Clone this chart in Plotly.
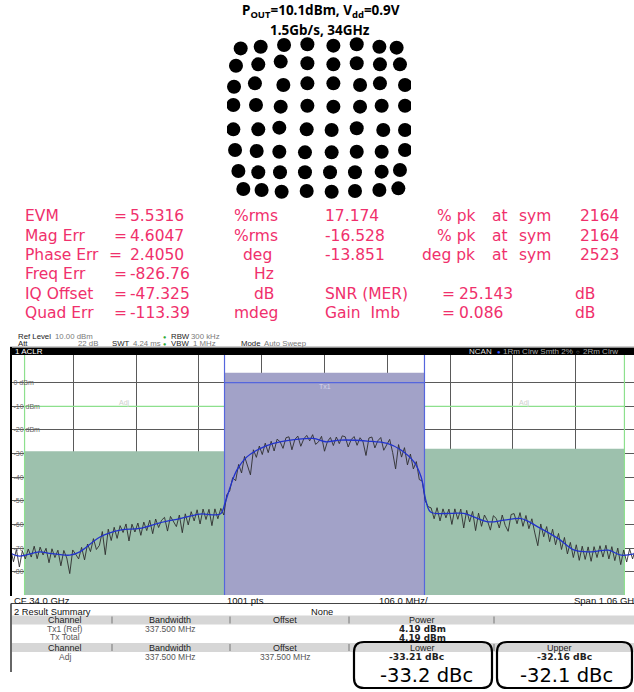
import plotly.graph_objects as go

W, H = 634, 692


def px(x):
    return x / W


def py(y):
    return 1 - y / H


# ---------------- data ----------------
title_line1 = "P<sub>OUT</sub>=10.1dBm, V<sub>dd</sub>=0.9V"
title_line2 = "1.5Gb/s, 34GHz"

# 64-QAM constellation, measured symbol cluster centres (I, Q), row by row
const_I_rows = [
    [-6.81, -5.07, -3.04, -1.01, 1.25, 3.28, 5.25, 6.75],
    [-7.22, -5.28, -3.33, -1.01, 1.25, 3.28, 5.30, 7.04],
    [-7.39, -5.57, -3.10, -1.01, 1.25, 3.57, 5.30, 7.48],
    [-7.45, -5.48, -3.33, -1.01, 1.25, 3.57, 5.45, 7.48],
    [-7.45, -5.28, -3.45, -1.07, 1.10, 3.28, 5.59, 7.48],
    [-7.30, -5.42, -3.45, -1.22, 1.10, 3.28, 5.45, 7.48],
    [-7.01, -5.28, -3.39, -1.22, 0.96, 3.13, 5.45, 7.04],
    [-6.58, -4.99, -3.25, -1.07, 1.10, 3.13, 5.25, 6.90],
]
const_Q_rows = [
    [6.63, 6.79, 6.95, 7.02, 6.89, 7.02, 6.79, 6.70],
    [4.98, 5.11, 5.37, 5.21, 5.11, 5.21, 5.11, 5.11],
    [2.98, 3.30, 3.14, 3.30, 3.30, 3.14, 3.30, 3.14],
    [1.24, 1.24, 1.08, 1.17, 1.08, 1.08, 1.17, 1.17],
    [-1.08, -1.08, -0.92, -1.08, -1.14, -0.98, -1.14, -1.14],
    [-3.05, -3.14, -3.21, -3.27, -3.27, -3.21, -3.21, -3.05],
    [-5.05, -5.17, -5.17, -5.17, -5.17, -5.17, -5.11, -4.95],
    [-6.76, -6.86, -7.02, -6.95, -7.02, -6.95, -6.86, -6.70],
]

# EVM result table
evm_labels = ["EVM", "Mag Err", "Phase Err", "Freq Err", "IQ Offset", "Quad Err"]
evm_values = ["5.5316", "4.6047", "2.4050", "-826.76", "-47.325", "-113.39"]
evm_units = ["%rms", "%rms", "deg", "Hz", "dB", "mdeg"]
pk_values = ["17.174", "-16.528", "-13.851"]
pk_units = ["% pk", "% pk", "deg pk"]
pk_symbols = ["2164", "2164", "2523"]
extra_labels = ["SNR (MER)", "Gain  Imb"]
extra_values = ["25.143", "0.086"]
extra_units = ["dB", "dB"]

# ACLR spectrum
center_freq_ghz = 34.0
span_mhz = 1060
div_mhz = 106.0
n_points = 1001
chan_bw_mhz = 337.5
adj_offset_mhz = 337.5
tx_power_dbm = 4.19
adj_lower_dbc = -33.21
adj_upper_dbc = -32.16
limit_line_dbm = -10

y_tick_vals = [0, -10, -20, -30, -40, -50, -60, -70, -80]
y_tick_text = ["0 dBm", "-10 dBm", "-20 dBm", "-30", "-40", "-50", "-60", "-70", "-80"]

# smoothed trace (offset from CF in MHz, dBm)
smooth_f = [-530, -515, -481, -464, -430, -413, -379, -345, -312, -278, -244, -210,
            -176, -168, -159, -148, -131, -108, -86, -58, -19, 2, 27, 72, 106,
            129, 151, 163, 171, 179, 213, 235, 276, 303, 332, 360, 394, 422,
            450, 479, 501, 525]
smooth_p = [-72.2, -73.4, -71.6, -72.2, -73.0, -71.6, -65.3, -62.4, -61.7, -59.3, -57.5, -55.6,
            -55.6, -51.0, -44.0, -37.0, -31.4, -27.8, -25.7, -24.3, -23.6, -25.0, -24.3, -24.7, -25.7,
            -28.5, -33.5, -39.8, -49.7, -54.7, -55.3, -55.3, -58.9, -58.2, -57.5, -61.0, -65.9, -70.9,
            -71.6, -70.9, -73.0, -72.3]

# raw trace, 5 MHz steps starting at -530 MHz offset (dBm)
raw_f0 = -530
raw_df = 5
raw_p = [
    -70.0, -75.8, -70.6, -78.0, -71.2, -74.6, -70.4, -73.8, -69.2, -74.5,
    -69.6, -72.9, -70.1, -76.2, -70.3, -74.0, -70.9, -77.5, -71.0, -74.2,
    -80.8, -70.8, -72.6, -74.6, -69.7, -75.0, -68.3, -71.5, -66.0, -70.6,
    -68.9, -63.0, -72.8, -62.0, -66.8, -61.2, -65.9, -60.5, -63.4, -59.8,
    -67.0, -59.9, -63.2, -59.4, -64.6, -59.0, -62.6, -58.2, -63.9, -57.7,
    -61.3, -58.2, -57.0, -62.8, -56.6, -59.0, -60.9, -56.0, -63.5, -55.5,
    -60.2, -54.6, -58.5, -53.8, -59.8, -53.5, -57.9, -53.6, -60.5, -53.4,
    -57.6, -53.2, -56.0, -47.5, -45.8, -40.2, -41.5, -34.6, -38.2, -31.2,
    -34.9, -39.0, -28.4, -31.6, -26.8, -30.4, -25.6, -29.6, -24.8, -28.9,
    -23.9, -25.0, -27.8, -23.3, -22.9, -28.4, -24.0, -22.6, -26.9, -23.8,
    -22.3, -24.6, -22.0, -26.1, -25.0, -22.7, -29.0, -24.9, -23.2, -26.6,
    -23.0, -25.8, -22.5, -22.9, -27.2, -24.1, -22.8, -26.5, -23.3, -25.0,
    -30.8, -23.4, -23.0, -27.6, -24.6, -23.2, -28.6, -26.1, -24.0, -29.5,
    -36.5, -26.2, -31.5, -27.5, -34.8, -30.2, -36.5, -33.4, -41.0, -41.6,
    -50.0, -52.5, -53.0, -57.6, -52.9, -58.5, -53.4, -57.2, -53.5, -60.0,
    -53.4, -57.8, -53.5, -61.5, -54.0, -58.9, -54.5, -62.6, -55.2, -60.8,
    -56.0, -58.4, -62.4, -56.3, -57.5, -61.5, -56.0, -60.4, -62.9, -55.8,
    -55.4, -59.7, -55.0, -60.8, -56.2, -61.8, -57.6, -63.6, -69.0, -59.8,
    -65.2, -60.9, -67.3, -62.0, -68.6, -63.8, -70.6, -65.5, -72.5, -67.6,
    -74.0, -68.6, -75.2, -69.2, -74.8, -69.5, -75.6, -69.4, -74.0, -69.0,
    -73.8, -68.8, -74.6, -69.4, -75.3, -70.0, -77.0, -70.8, -75.9, -70.4,
    -74.6, -70.2, -74.0,
]

# result summary
rs_bandwidth = "337.500 MHz"
rs_offset = "337.500 MHz"
big_lower = "-33.2 dBc"
big_upper = "-32.1 dBc"

# ---------------- styling constants ----------------
PINK = "#f0306c"
GREEN_FILL = "#9dc1ad"
BLUE_FILL = "#a2a2c8"
GREEN_LINE = "#8de08d"
BLUE_LINE = "#5566dd"
GRID = "#5a5a5a"

Y_TOP, Y_BOT = 11.72, -89.86
X_LEFT, X_RIGHT = -530, 522.4

fig = go.Figure()

# ---------- constellation ----------
cI = [v for row in const_I_rows for v in row]
cQ = [v for row in const_Q_rows for v in row]
fig.add_trace(go.Scatter(x=cI, y=cQ, mode="markers", xaxis="x3", yaxis="y3",
                         marker=dict(size=14, color="black", line=dict(width=0)),
                         showlegend=False, hoverinfo="skip"))

# ---------- spectrum ----------
half = chan_bw_mhz / 2
lo_a, lo_b = -adj_offset_mhz - half, -adj_offset_mhz + half
up_a, up_b = adj_offset_mhz - half, adj_offset_mhz + half
lower_pow = tx_power_dbm + adj_lower_dbc
upper_pow = tx_power_dbm + adj_upper_dbc


def rect_trace(a, b, top, color):
    return go.Scatter(x=[a, a, b, b, a], y=[Y_BOT, top, top, Y_BOT, Y_BOT], mode="lines",
                      fill="toself", fillcolor=color, line=dict(width=0),
                      xaxis="x2", yaxis="y2", showlegend=False, hoverinfo="skip")


fig.add_trace(rect_trace(lo_a, lo_b, lower_pow, GREEN_FILL))
fig.add_trace(rect_trace(up_a, up_b, upper_pow, GREEN_FILL))
fig.add_trace(rect_trace(-half, half, tx_power_dbm, BLUE_FILL))

# limit lines in adjacent channels
for a, b in [(lo_a, lo_b), (up_a, up_b)]:
    fig.add_trace(go.Scatter(x=[a, b], y=[limit_line_dbm, limit_line_dbm], mode="lines",
                             line=dict(color=GREEN_LINE, width=1.2), xaxis="x2", yaxis="y2",
                             showlegend=False, hoverinfo="skip"))
# adjacent outer edges (green), tx edges (blue)
for xv in [lo_a, up_b]:
    fig.add_trace(go.Scatter(x=[xv, xv], y=[Y_BOT, Y_TOP], mode="lines",
                             line=dict(color=GREEN_LINE, width=1.2), xaxis="x2", yaxis="y2",
                             showlegend=False, hoverinfo="skip"))
for xv in [-half, half]:
    fig.add_trace(go.Scatter(x=[xv, xv], y=[Y_BOT, Y_TOP], mode="lines",
                             line=dict(color=BLUE_LINE, width=1.2), xaxis="x2", yaxis="y2",
                             showlegend=False, hoverinfo="skip"))
fig.add_trace(go.Scatter(x=[-half, half], y=[0, 0], mode="lines",
                         line=dict(color=BLUE_LINE, width=1.2), xaxis="x2", yaxis="y2",
                         showlegend=False, hoverinfo="skip"))

fig.add_trace(go.Scatter(x0=raw_f0, dx=raw_df, y=raw_p, mode="lines",
                         line=dict(color="#2e2e2e", width=0.9), xaxis="x2", yaxis="y2",
                         showlegend=False, hoverinfo="skip"))
fig.add_trace(go.Scatter(x=smooth_f, y=smooth_p, mode="lines", line_shape="spline",
                         line=dict(color="#2233cc", width=1.3), xaxis="x2", yaxis="y2",
                         showlegend=False, hoverinfo="skip"))

# ---------- annotations ----------
ann = []


def txt(x, y, s, size, color="black", anchor="left", family="DejaVu Sans", yanchor="middle"):
    ann.append(dict(x=px(x), y=py(y), xref="paper", yref="paper", text=s, showarrow=False,
                    xanchor=anchor, yanchor=yanchor,
                    font=dict(size=size, color=color, family=family)))


# title
txt(321, 11, "<b>" + title_line1 + "</b>", 13.5, anchor="center", family="Noto Sans")
txt(320, 30, "<b>" + title_line2 + "</b>", 13.5, anchor="center", family="Noto Sans")

# EVM table
row_y = [216, 235.5, 254.5, 274, 293.5, 313]
eq_x = [112, 112, 107, 112, 112, 112]
unit_x = [231.5, 231.5, 240.5, 251.5, 251.5, 231.5]
FS = 15.5
for i in range(6):
    txt(23, row_y[i], evm_labels[i], FS, PINK)
    txt(eq_x[i], row_y[i], "=", FS, PINK)
    txt(128, row_y[i], evm_values[i], FS, PINK)
    txt(unit_x[i], row_y[i], evm_units[i], FS, PINK)
for i in range(3):
    txt(323, row_y[i], pk_values[i], FS, PINK)
    txt(477, row_y[i], pk_units[i], FS, PINK, anchor="right")
    txt(490, row_y[i], "at", FS, PINK)
    txt(517, row_y[i], "sym", FS, PINK)
    txt(621, row_y[i], pk_symbols[i], FS, PINK, anchor="right")
for j in range(2):
    yy = row_y[4 + j]
    txt(323, yy, extra_labels[j], FS, PINK)
    txt(440, yy, "=", FS, PINK)
    txt(457, yy, extra_values[j], FS, PINK)
    txt(573, yy, extra_units[j], FS, PINK)

# analyzer header
HF = "Liberation Sans"
HS = 7.8
LBL = "#1a1a1a"
VAL = "#7a7a7a"
txt(16, 336.5, "Ref Level", HS, LBL, family=HF)
txt(53, 336.5, "%.2f dBm" % 10.0, HS, VAL, family=HF)
txt(16, 343.5, "Att", HS, LBL, family=HF)
txt(100, 343.5, "22 dB", HS, VAL, anchor="right", family=HF)
txt(110, 343.5, "SWT", HS, LBL, family=HF)
txt(131, 343.5, "4.24 ms", HS, VAL, family=HF)
txt(161, 336.5, "●", 5.5, "#33aa33", family=HF)
txt(161, 343.5, "●", 5.5, "#33aa33", family=HF)
txt(169, 336.5, "RBW", HS, LBL, family=HF)
txt(189, 336.5, "300 kHz", HS, VAL, family=HF)
txt(169, 343.5, "VBW", HS, LBL, family=HF)
txt(218, 343.5, "1 MHz", HS, VAL, anchor="right", family=HF)
txt(239, 343.5, "Mode", HS, LBL, family=HF)
txt(262, 343.5, "Auto Sweep", HS, VAL, family=HF)
txt(13, 351.5, "1 ACLR", 8, "white", family=HF)
txt(467, 351.5, "NCAN", 8, "#dddddd", family=HF)
txt(495, 351.5, "●", 6, "#3355ff", family=HF)
txt(501, 351.5, "1Rm Clrw Smth 2%", 8, "#aaaaaa", family=HF)
txt(574, 351.5, "○", 6, "#aaaaaa", family=HF)
txt(581, 351.5, "2Rm Clrw", 8, "#aaaaaa", family=HF)

# in-plot labels
fig.add_annotation(x=-adj_offset_mhz, y=-8.5, xref="x2", yref="y2", text="Adj", showarrow=False,
                   font=dict(size=7, color="#cfcfcf", family=HF))
fig.add_annotation(x=adj_offset_mhz, y=-8.5, xref="x2", yref="y2", text="Adj", showarrow=False,
                   font=dict(size=7, color="#cfcfcf", family=HF))
fig.add_annotation(x=0, y=-1.5, xref="x2", yref="y2", text="Tx1", showarrow=False,
                   font=dict(size=7, color="#d4d4ea", family=HF))

# footer of the spectrum
FF = 9.5
txt(12, 600, "CF %.1f GHz" % center_freq_ghz, FF, "#111", family=HF)
txt(225, 600, "%d pts" % n_points, FF, "#111", family=HF)
txt(377, 600, "%.1f MHz/" % div_mhz, FF, "#111", family=HF)
txt(572, 600, "Span %.2f GHz" % (span_mhz / 1000), FF, "#111", family=HF)

# result summary
TF = 9
BF = "DejaVu Sans"
txt(12, 611.5, "2 Result Summary", 9.3, "#111", family=HF)
txt(322, 611.5, "None", 9.3, "#111", anchor="center", family=HF)
for xx, s in [(65, "Channel"), (170, "Bandwidth"), (285, "Offset"), (422, "Power")]:
    txt(xx, 620, s, TF, "#222", anchor="center", family=HF)
for xx, s in [(65, "Channel"), (170, "Bandwidth"), (285, "Offset"), (422, "Lower"), (559, "Upper")]:
    txt(xx, 647.5, s, TF, "#222", anchor="center", family=HF)
txt(65, 628.5, "Tx1 (Ref)", 8.5, "#555", anchor="center", family=HF)
txt(170, 628.5, rs_bandwidth, 8.5, "#555", anchor="center", family=HF)
txt(422, 629, "<b>%.2f dBm</b>" % tx_power_dbm, 8.8, "#222", anchor="center", family=BF)
txt(65, 637, "Tx Total", 8.5, "#555", anchor="center", family=HF)
txt(422, 638, "<b>%.2f dBm</b>" % tx_power_dbm, 8.8, "#222", anchor="center", family=BF)
txt(65, 656.5, "Adj", 8.5, "#555", anchor="center", family=HF)
txt(170, 656.5, rs_bandwidth, 8.5, "#555", anchor="center", family=HF)
txt(285, 656.5, rs_offset, 8.5, "#555", anchor="center", family=HF)
txt(416, 656.5, "<b>%.2f dBc</b>" % adj_lower_dbc, 9.2, "#222", anchor="center", family=BF)
txt(564, 656.5, "<b>%.2f dBc</b>" % adj_upper_dbc, 9.2, "#222", anchor="center", family=BF)
txt(426, 675, big_lower, 19.5, "black", anchor="center")
txt(566, 675, big_upper, 19.5, "black", anchor="center")

# ---------- shapes ----------
shapes = []


def rect(x0, y0, x1, y1, fill, line_color=None, lw=0):
    shapes.append(dict(type="rect", xref="paper", yref="paper", x0=px(x0), x1=px(x1),
                       y0=py(y1), y1=py(y0), fillcolor=fill,
                       line=dict(width=lw, color=line_color or fill)))


def hline(x0, x1, y, color, lw=1):
    shapes.append(dict(type="line", xref="paper", yref="paper", x0=px(x0), x1=px(x1),
                       y0=py(y), y1=py(y), line=dict(color=color, width=lw)))


def vline(x, y0, y1, color, lw=1):
    shapes.append(dict(type="line", xref="paper", yref="paper", x0=px(x), x1=px(x),
                       y0=py(y0), y1=py(y1), line=dict(color=color, width=lw)))


def rrect(x0, y0, x1, y1, r):
    def P(x, y):
        return "%f,%f" % (px(x), py(y))
    path = ("M " + P(x0 + r, y0) + " L " + P(x1 - r, y0) + " Q " + P(x1, y0) + " " + P(x1, y0 + r) +
            " L " + P(x1, y1 - r) + " Q " + P(x1, y1) + " " + P(x1 - r, y1) +
            " L " + P(x0 + r, y1) + " Q " + P(x0, y1) + " " + P(x0, y1 - r) +
            " L " + P(x0, y0 + r) + " Q " + P(x0, y0) + " " + P(x0 + r, y0) + " Z")
    shapes.append(dict(type="path", xref="paper", yref="paper", path=path,
                       line=dict(color="black", width=2.2)))


rect(10, 347.5, 634, 355, "black")
hline(10, 634, 347, "#999", 1)
vline(11, 347, 596, "black", 2)
hline(11, 634, 603.5, "#444", 1)
vline(11, 603.5, 672, "#333", 1.5)
rect(12, 615.5, 634, 624.5, "#d6d6d6")
rect(12, 643, 634, 652, "#d6d6d6")
for xx in [112, 230, 349, 494]:
    vline(xx, 616.5, 623.5, "#777", 1)
    vline(xx, 644, 651, "#777", 1)
rrect(354, 642, 492, 688, 10)
rrect(497, 642, 632, 688, 10)

fig.update_layout(
    width=W, height=H, margin=dict(l=0, r=0, t=0, b=0),
    paper_bgcolor="white", plot_bgcolor="rgba(0,0,0,0)",
    annotations=list(fig.layout.annotations) + ann,
    shapes=shapes,
    xaxis=dict(visible=False), yaxis=dict(visible=False),
    xaxis2=dict(domain=[10.5 / W, 1], range=[X_LEFT, X_RIGHT], anchor="y2",
                tick0=0, dtick=div_mhz, showgrid=True, gridcolor=GRID, gridwidth=1,
                showticklabels=False, zeroline=False, showline=False, ticks=""),
    yaxis2=dict(domain=[py(595), py(355)], range=[Y_BOT, Y_TOP], anchor="x2",
                tickvals=y_tick_vals, ticktext=y_tick_text, ticklabelposition="inside",
                tickfont=dict(size=7, color="#666", family=HF),
                showgrid=True, gridcolor=GRID, gridwidth=1, zeroline=False, showline=False,
                ticks=""),
    xaxis3=dict(domain=[px(227), px(411)], range=[-8, 8], anchor="y3", visible=False),
    yaxis3=dict(domain=[py(202), py(34)], range=[-8, 8], anchor="x3", visible=False),
)

fig.write_html("out.html", config={"displayModeBar": False},
               post_script="document.body.style.margin='0';document.body.style.overflow='hidden';")
